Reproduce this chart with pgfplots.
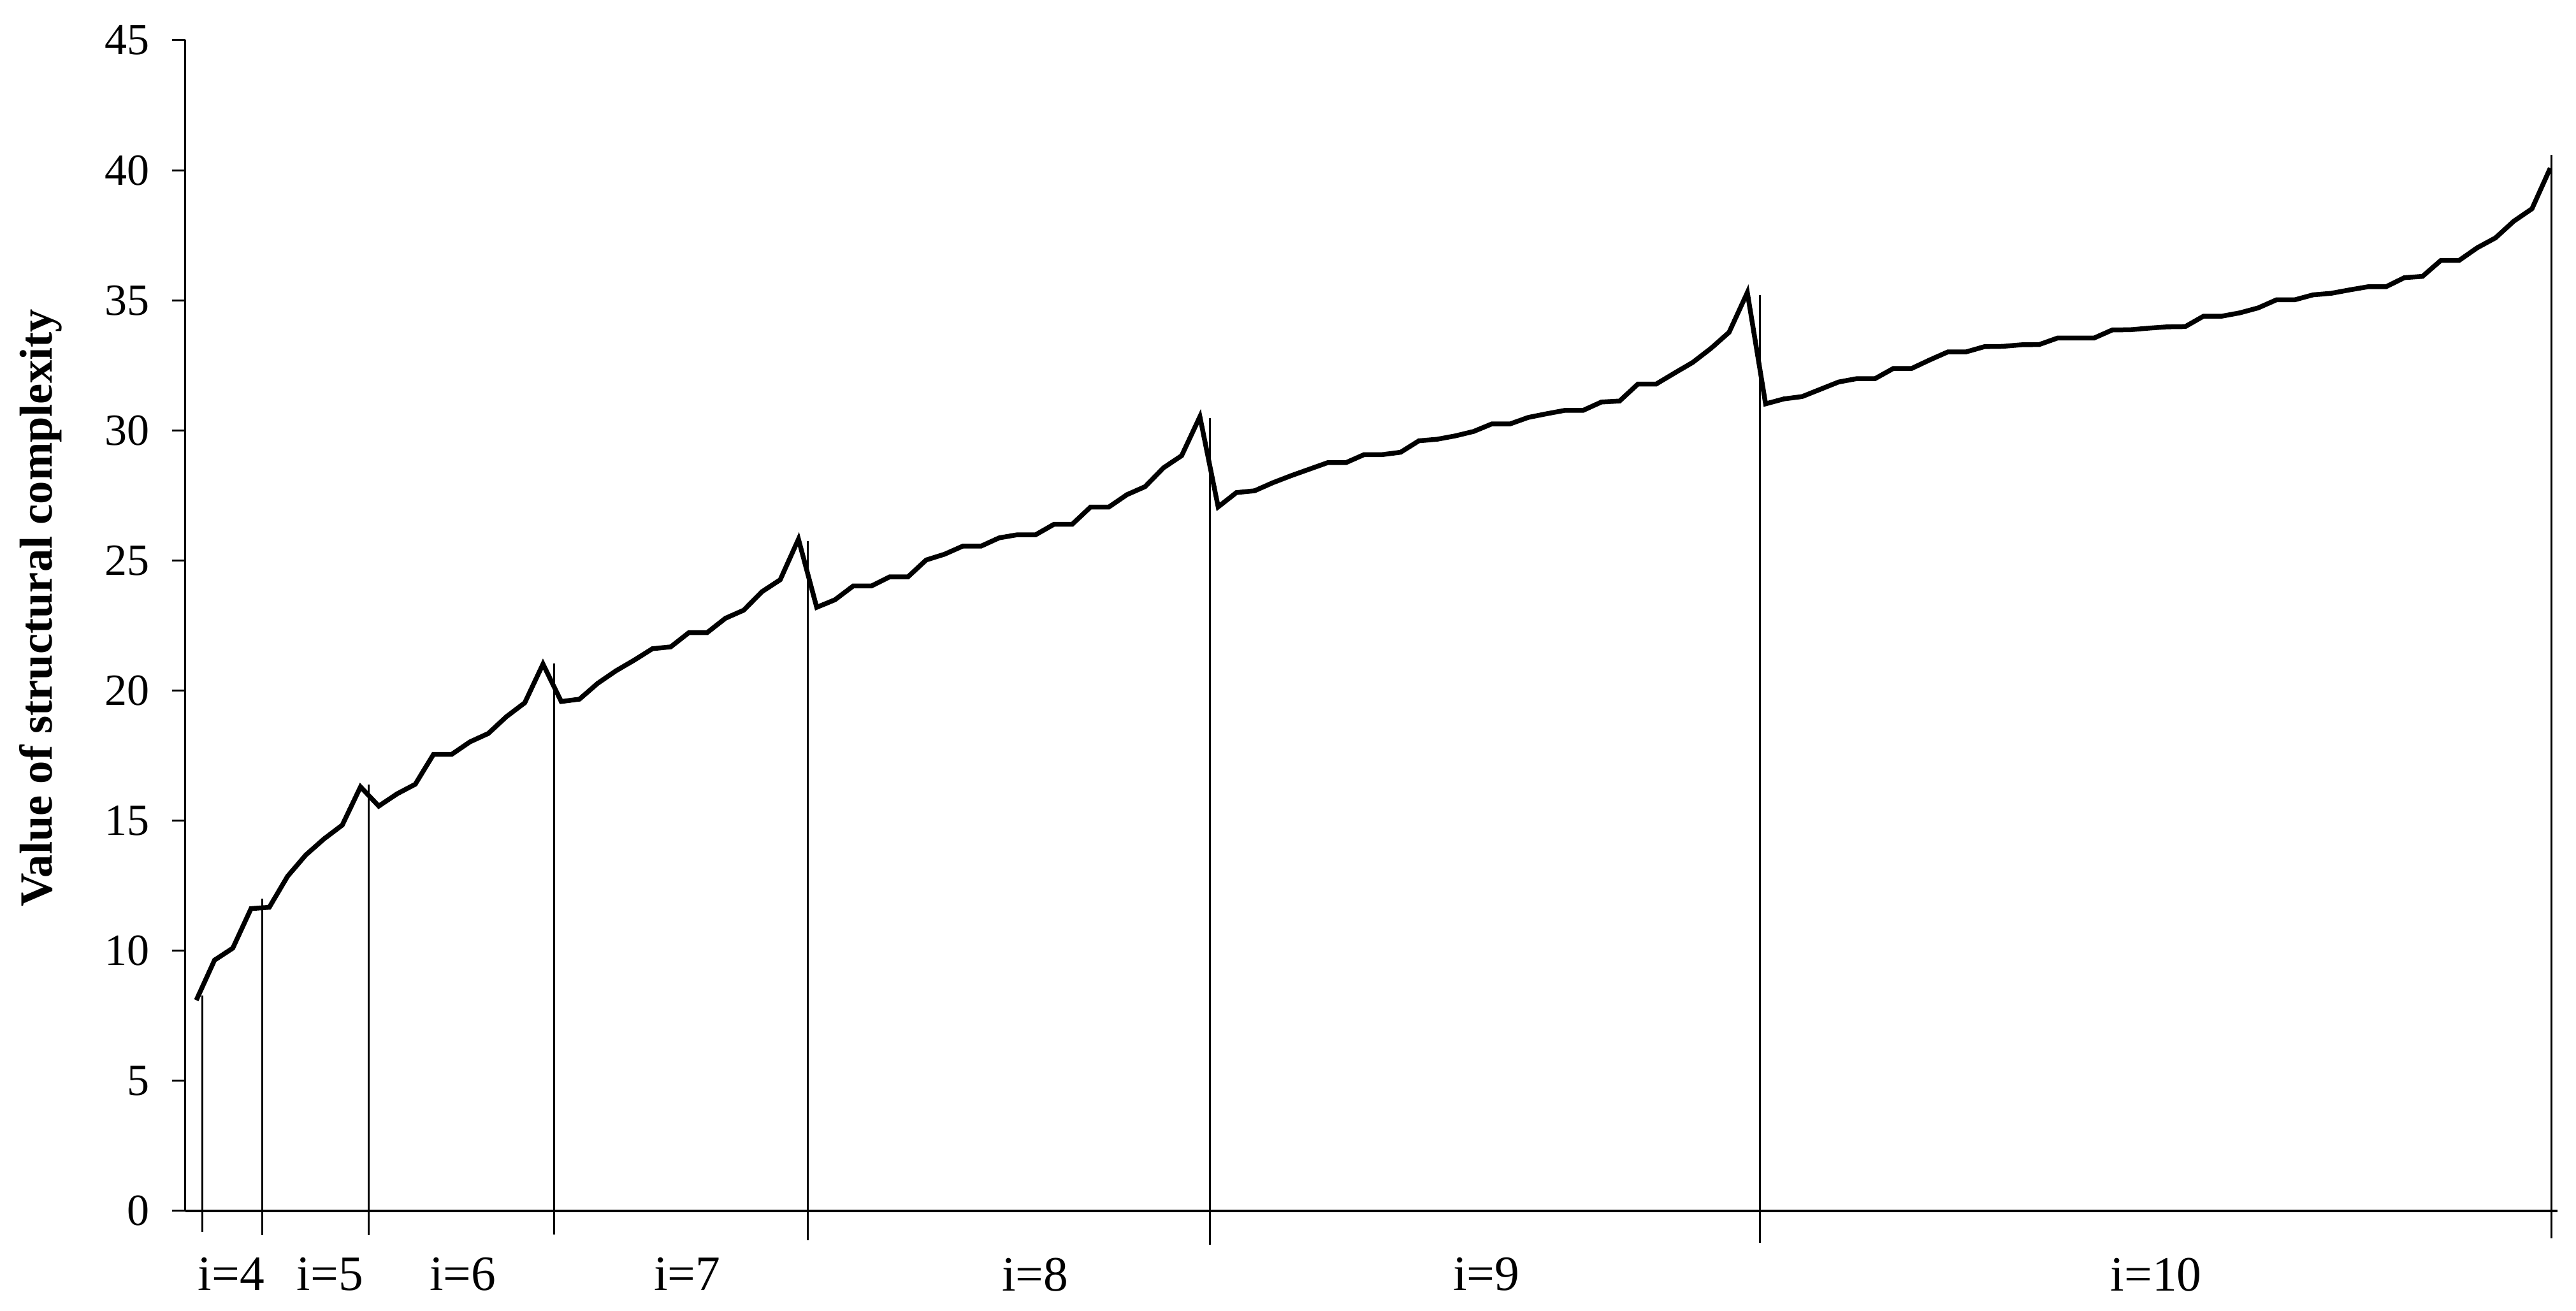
\documentclass[border=0pt]{standalone}
\usepackage{fontspec}
\setmainfont{Liberation Serif}
\usepackage{pgfplots}
\pgfplotsset{compat=1.18}

% structural complexity, one point per structure, groups i=4..10
\pgfplotstableread{
idx val
0 8.1
1 9.64
2 10.1
3 11.62
4 11.67
5 12.86
6 13.68
7 14.3
8 14.83
9 16.3
10 15.56
11 16.03
12 16.4
13 17.55
14 17.55
15 18.03
16 18.35
17 19.0
18 19.53
19 21.02
20 19.58
21 19.67
22 20.28
23 20.76
24 21.17
25 21.61
26 21.68
27 22.23
28 22.23
29 22.78
30 23.09
31 23.8
32 24.26
33 25.82
34 23.2
35 23.49
36 24.02
37 24.02
38 24.37
39 24.37
40 25.02
41 25.24
42 25.55
43 25.55
44 25.87
45 25.99
46 25.99
47 26.39
48 26.39
49 27.05
50 27.05
51 27.53
52 27.84
53 28.56
54 29.03
55 30.53
56 27.06
57 27.61
58 27.68
59 27.99
60 28.26
61 28.51
62 28.76
63 28.76
64 29.07
65 29.07
66 29.16
67 29.6
68 29.66
69 29.79
70 29.96
71 30.25
72 30.25
73 30.5
74 30.64
75 30.77
76 30.77
77 31.09
78 31.13
79 31.78
80 31.78
81 32.2
82 32.61
83 33.15
84 33.77
85 35.3
86 31.02
87 31.21
88 31.3
89 31.58
90 31.86
91 31.99
92 31.99
93 32.38
94 32.38
95 32.71
96 33.02
97 33.02
98 33.22
99 33.23
100 33.29
101 33.3
102 33.55
103 33.55
104 33.55
105 33.86
106 33.87
107 33.93
108 33.98
109 33.99
110 34.39
111 34.39
112 34.52
113 34.71
114 35.02
115 35.02
116 35.21
117 35.27
118 35.4
119 35.52
120 35.52
121 35.87
122 35.92
123 36.53
124 36.53
125 37.02
126 37.4
127 38.04
128 38.52
129 40.08
}\complexity

\begin{document}
\begin{tikzpicture}
\path[use as bounding box] (-58.2pt,-31.4pt) rectangle (750.2pt,380pt);
\begin{axis}[
    scale only axis, width=744.4pt, height=367.4pt,
    xmin=-0.594, xmax=129.4, ymin=0, ymax=45,
    axis x line=bottom, axis y line=left,
    axis line style={-, line width=0.6pt},
    x axis line style={line width=0.9pt},
    clip=false,
    ytick={0,5,...,45}, tick align=outside,
    y tick style={line width=0.6pt, black}, major tick length=4.2pt,
    xtick={1.92,7.33,14.6,26.9,45.97,70.7,107.4},
    xticklabels={i=4,i=5,i=6,i=7,i=8,\raisebox{-3pt}{i=9},i=10},
    x tick style={draw=none},
    xticklabel style={font=\fontsize{15.5}{17}\selectfont, yshift=-7pt},
    yticklabel style={font=\fontsize{14}{16}\selectfont, xshift=-3.5pt},
    /pgf/number format/assume math mode=true,
    ylabel={Value of structural complexity},
    ylabel style={font=\fontsize{14.5}{16}\selectfont\bfseries,
        at={(axis description cs:-0.061,0.515)}, anchor=center},
]
\addplot[black, line width=1.5pt, mark=none] table[x=idx, y=val] {\complexity};
% group separators, drawn down past the axis
\addplot[black, line width=0.6pt] coordinates {(0.34,-0.81) (0.34,8.29)};
\addplot[black, line width=0.6pt] coordinates {(3.63,-0.92) (3.63,12.0)};
\addplot[black, line width=0.6pt] coordinates {(9.45,-0.92) (9.45,16.39)};
\addplot[black, line width=0.6pt] coordinates {(19.6,-0.9) (19.6,21.04)};
\addplot[black, line width=0.6pt] coordinates {(33.5,-1.12) (33.5,25.75)};
\addplot[black, line width=0.6pt] coordinates {(55.55,-1.3) (55.55,30.47)};
\addplot[black, line width=0.6pt] coordinates {(85.68,-1.22) (85.68,35.2)};
\addplot[black, line width=0.6pt] coordinates {(129.06,-1.05) (129.06,40.58)};
\end{axis}
\end{tikzpicture}
\end{document}
